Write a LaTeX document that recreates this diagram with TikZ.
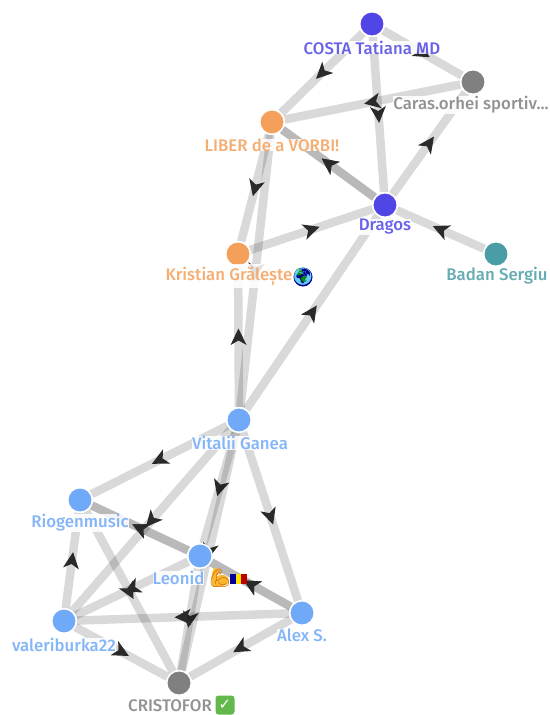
\documentclass[tikz,border=0pt]{standalone}
\usepackage{fontspec}
\setmainfont{Fira Sans}[BoldFont={Fira Sans Medium}]
\newfontfamily\emojifont{Noto Emoji}
\newfontfamily\symfont{DejaVu Sans}
\usetikzlibrary{arrows.meta,decorations.markings,backgrounds,calc}
\definecolor{violet}{HTML}{4F46E5}
\definecolor{greyn}{HTML}{808080}
\definecolor{orangen}{HTML}{F4A05A}
\definecolor{tealn}{HTML}{4A9DA6}
\definecolor{bluen}{HTML}{70A9F8}
\definecolor{arrowc}{HTML}{2A2A2A}
\definecolor{muscle}{HTML}{F7B733}
\definecolor{checkg}{HTML}{62B84A}
\tikzset{
  person/.style={circle,fill=#1,draw=white,line width=1.4pt,minimum size=24.5pt,inner sep=0pt},
  lbl/.style={font=\bfseries\fontsize{16.8}{18}\selectfont,text=#1,inner sep=0pt,fill=white,fill opacity=.86,text opacity=.85},
  link/.style={line width=8.5pt,draw=black,draw opacity=.15,
    postaction={decorate},
    decoration={markings,mark=at position .5 with {\fill[arrowc,fill opacity=1,draw=none] (8.5,0) -- (-8,8) -- (-3.5,0) -- (-8,-8) -- cycle;}}},
}
\begin{document}
\begin{tikzpicture}[x=1pt,y=-1pt]
\useasboundingbox (0,0) rectangle (549,715);
\node[person=violet] (costa) at (372,24) {};
\node[person=greyn] (caras) at (473,82) {};
\node[person=orangen] (liber) at (272,122) {};
\node[person=violet] (dragos) at (385,205) {};
\node[person=orangen] (kristian) at (238,254) {};
\node[person=tealn] (badan) at (496,254) {};
\node[person=bluen] (vitalii) at (239,420) {};
\node[person=bluen] (riogen) at (80,500) {};
\node[person=bluen] (leonid) at (200,556) {};
\node[person=bluen] (alex) at (302,613) {};
\node[person=bluen] (valeri) at (64,621) {};
\node[person=greyn] (cristofor) at (179,683) {};
\begin{scope}[on background layer]
\draw[link] (costa) -- (liber);
\draw[link] (costa) -- (caras);
\draw[link] (costa) -- (dragos);
\draw[link] (caras) -- (liber);
\draw[link] (dragos) -- (caras);
\draw[link] (dragos) -- (liber);
\draw[link] (dragos) -- (liber);
\draw[link] (kristian) -- (dragos);
\draw[link] (badan) -- (dragos);
\draw[link] (liber) -- (kristian);
\draw[link] (liber) -- (vitalii);
\draw[link] (vitalii) -- (kristian);
\draw[link] (vitalii) -- (dragos);
\draw[link] (vitalii) -- (riogen);
\draw[link] (vitalii) -- (leonid);
\draw[link] (vitalii) -- (alex);
\draw[link] (vitalii) -- (valeri);
\draw[link] (vitalii) -- (cristofor);
\draw[link] (leonid) -- (riogen);
\draw[link] (leonid) -- (riogen);
\draw[link] (leonid) -- (cristofor);
\draw[link] (leonid) -- (valeri);
\draw[link] (alex) -- (leonid);
\draw[link] (alex) -- (leonid);
\draw[link] (alex) -- (valeri);
\draw[link] (alex) -- (cristofor);
\draw[link] (valeri) -- (riogen);
\draw[link] (valeri) -- (cristofor);
\draw[link] (riogen) -- (cristofor);
\end{scope}
\node[lbl=violet] (lcosta) at (372,47.5) {COSTA Tatiana MD};
\node[lbl=greyn] (lcaras) at (471,105) {Caras.orhei sportiv...};
\node[lbl=orangen] (lliber) at (272,145) {LIBER de a VORBI!};
\node[lbl=violet] (ldragos) at (385,227) {Dragos};
\node[lbl=orangen,inner ysep=3pt] (lkristian) at (229,276) {Kristian Grălește};
\node[lbl=tealn] (lbadan) at (497,276) {Badan Sergiu};
\node[lbl=bluen] (lvitalii) at (240,443) {Vitalii Ganea};
\node[lbl=bluen] (lriogen) at (80,523) {Riogenmusic};
\node[lbl=bluen] (lleonid) at (178.5,578) {Leonid};
\node[lbl=bluen] (lalex) at (302,635) {Alex S.};
\node[lbl=bluen] (lvaleri) at (64,645) {valeriburka22};
\node[lbl=greyn] (lcristofor) at (170,706) {CRISTOFOR};
% emoji
\fill[blue!55!black] (303,277) circle (9.5pt);
\fill[green!55!black] (299,272) circle (3.5pt) (304,279) circle (3pt);
\node[text=cyan!60!white,inner sep=0pt,font=\emojifont\fontsize{17}{17}\selectfont] (globe) at (303,277) {🌍};
\fill[muscle] (214,568) .. controls (217,567) and (220,569) .. (219,572) -- (216,577) .. controls (221,573) and (229,575) .. (229,581) .. controls (229,586) and (218,587) .. (213,587) .. controls (211,580) and (211,574) .. (214,568) -- cycle;
\node[text=orange!85!black,inner sep=0pt,font=\emojifont\fontsize{18}{18}\selectfont] (mus) at (220,578) {💪};
\fill[blue!60!black] (230,574) rectangle (235.5,584);
\fill[yellow!85!orange] (235.5,574) rectangle (241,584);
\fill[red!75!black] (241,574) rectangle (247,584);
\node[fill=checkg,rounded corners=3pt,minimum size=19pt,inner sep=0pt,text=white,font=\symfont\fontsize{15}{15}\selectfont] (check) at (225,705) {✓};
\end{tikzpicture}
\end{document}
